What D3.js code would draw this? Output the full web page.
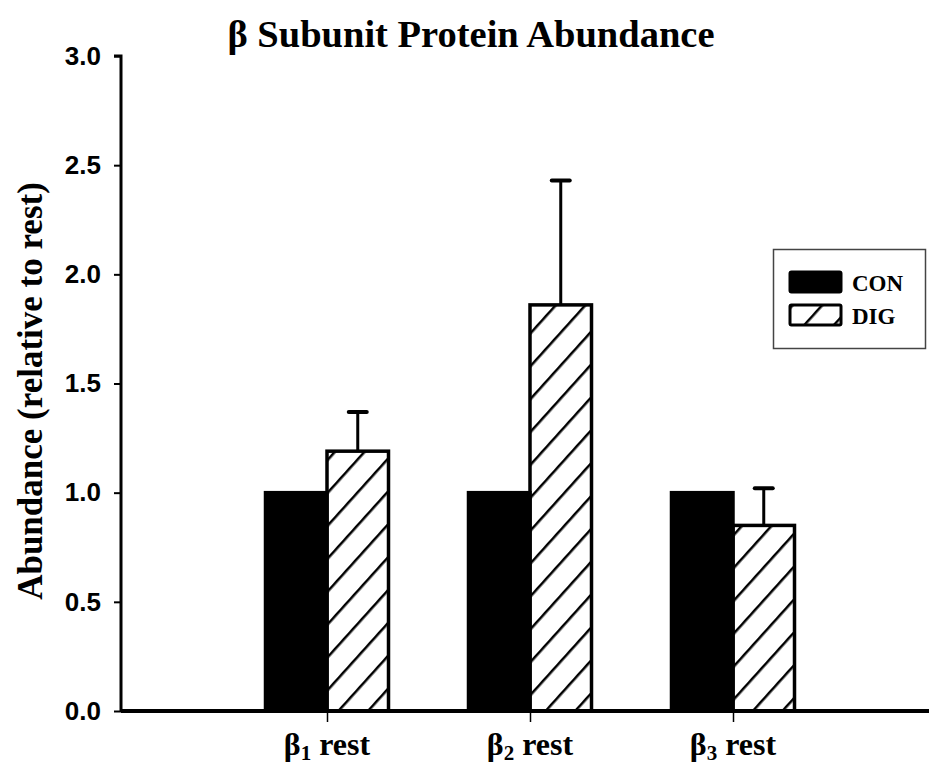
<!DOCTYPE html>
<html>
<head>
<meta charset="utf-8">
<script src="https://d3js.org/d3.v7.min.js"></script>
<style>
  body { margin: 0; background: #fff; }
  text { fill: #000; }
  .serif { font-family: "Liberation Serif", "DejaVu Serif", serif; font-weight: bold; }
  .sans { font-family: "Liberation Sans", Arial, sans-serif; font-weight: bold; }
</style>
</head>
<body>
<svg width="929" height="769"></svg>
<script>
// data
var groups = ["1", "2", "3"];            // beta subunit index
var series = ["CON", "DIG"];
var conValues = [1.0, 1.0, 1.0];
var digValues = [1.19, 1.86, 0.85];
var digErrors = [0.18, 0.57, 0.17];
var yTicks = [0.0, 0.5, 1.0, 1.5, 2.0, 2.5, 3.0];

var svg = d3.select("svg");

var y = d3.scaleLinear().domain([0, 3]).range([711, 56]);
var x = d3.scalePoint().domain(groups).range([327, 733]);
var xs = d3.scaleBand().domain(series).range([-61.5, 61.5]);

// hatch pattern
svg.append("defs").append("pattern")
    .attr("id", "hatch")
    .attr("patternUnits", "userSpaceOnUse")
    .attr("width", 22).attr("height", 22)
    .attr("patternTransform", "rotate(42)")
  .append("line")
    .attr("x1", 0).attr("y1", 0).attr("x2", 0).attr("y2", 22)
    .attr("stroke", "#000").attr("stroke-width", 5);

// title
svg.append("text")
    .attr("class", "serif")
    .attr("x", 471).attr("y", 47)
    .attr("text-anchor", "middle")
    .attr("font-size", 38.5)
    .text("\u03b2 Subunit Protein Abundance");

// bars
var rows = [];
groups.forEach(function (g, i) {
  rows.push({g: g, s: "CON", v: conValues[i], e: 0});
  rows.push({g: g, s: "DIG", v: digValues[i], e: digErrors[i]});
});

// error bars (drawn first, bar covers bottom)
svg.append("g").selectAll("g")
  .data(rows.filter(function (d) { return d.e > 0; }))
  .enter().append("g")
  .each(function (d) {
    var cx = x(d.g) + xs(d.s) + xs.bandwidth() / 2;
    var g = d3.select(this);
    g.append("line")
      .attr("x1", cx).attr("x2", cx)
      .attr("y1", y(d.v)).attr("y2", y(d.v + d.e))
      .attr("stroke", "#000").attr("stroke-width", 3);
    g.append("line")
      .attr("x1", cx - 9).attr("x2", cx + 9)
      .attr("y1", y(d.v + d.e)).attr("y2", y(d.v + d.e))
      .attr("stroke", "#000").attr("stroke-width", 4)
      .attr("stroke-linecap", "round");
  });

svg.append("g").selectAll("rect")
  .data(rows)
  .enter().append("rect")
    .attr("x", function (d) { return x(d.g) + xs(d.s); })
    .attr("y", function (d) { return y(d.v); })
    .attr("width", xs.bandwidth())
    .attr("height", function (d) { return y(0) - y(d.v); })
    .attr("fill", function (d) { return d.s === "CON" ? "#000" : "url(#hatch)"; })
    .attr("stroke", "#000")
    .attr("stroke-width", 3.5);

// y axis
var yAxis = svg.append("g")
    .attr("transform", "translate(121,0)")
    .call(d3.axisLeft(y).tickValues(yTicks).tickFormat(d3.format(".1f")).tickSize(7).tickPadding(13));
yAxis.attr("font-family", null).attr("font-size", null);
yAxis.select(".domain").attr("stroke-width", 3).attr("d", "M-7,56H0V711");
yAxis.selectAll(".tick line").attr("stroke-width", 2);
yAxis.selectAll(".tick text")
    .attr("class", "sans")
    .attr("font-size", 26);

// x axis
var xAxis = svg.append("g")
    .attr("transform", "translate(0,711)")
    .call(d3.axisBottom(x).tickSize(11).tickFormat(""));
xAxis.select(".domain").attr("stroke-width", 4).attr("d", "M121,0H929");
xAxis.selectAll(".tick line").attr("stroke-width", 1.5);

// x labels with subscript
var xl = svg.append("g").selectAll("text")
  .data(groups)
  .enter().append("text")
    .attr("class", "serif")
    .attr("x", function (d) { return x(d); })
    .attr("y", 755)
    .attr("text-anchor", "middle")
    .attr("font-size", 32);
xl.append("tspan").text("\u03b2");
xl.append("tspan").attr("dy", 5).attr("font-size", 21).text(function (d) { return d; });
xl.append("tspan").attr("dy", -5).text(" rest");

// y label
svg.append("text")
    .attr("class", "serif")
    .attr("transform", "translate(42,391) rotate(-90)")
    .attr("text-anchor", "middle")
    .attr("font-size", 35)
    .text("Abundance (relative to rest)");

// legend
var lg = svg.append("g");
lg.append("rect")
    .attr("x", 773.5).attr("y", 249.5).attr("width", 152).attr("height", 99)
    .attr("fill", "#fff").attr("stroke", "#444").attr("stroke-width", 1.5);
series.forEach(function (s, i) {
  var yy = 272 + i * 33;
  lg.append("rect")
    .attr("x", 790).attr("y", yy).attr("width", 51).attr("height", 20)
    .attr("rx", 1.5)
    .attr("fill", s === "CON" ? "#000" : "url(#hatch)")
    .attr("stroke", "#000").attr("stroke-width", 3);
  lg.append("text")
    .attr("class", "serif")
    .attr("x", 852).attr("y", yy + 19)
    .attr("font-size", 23)
    .text(s);
});
</script>
</body>
</html>
